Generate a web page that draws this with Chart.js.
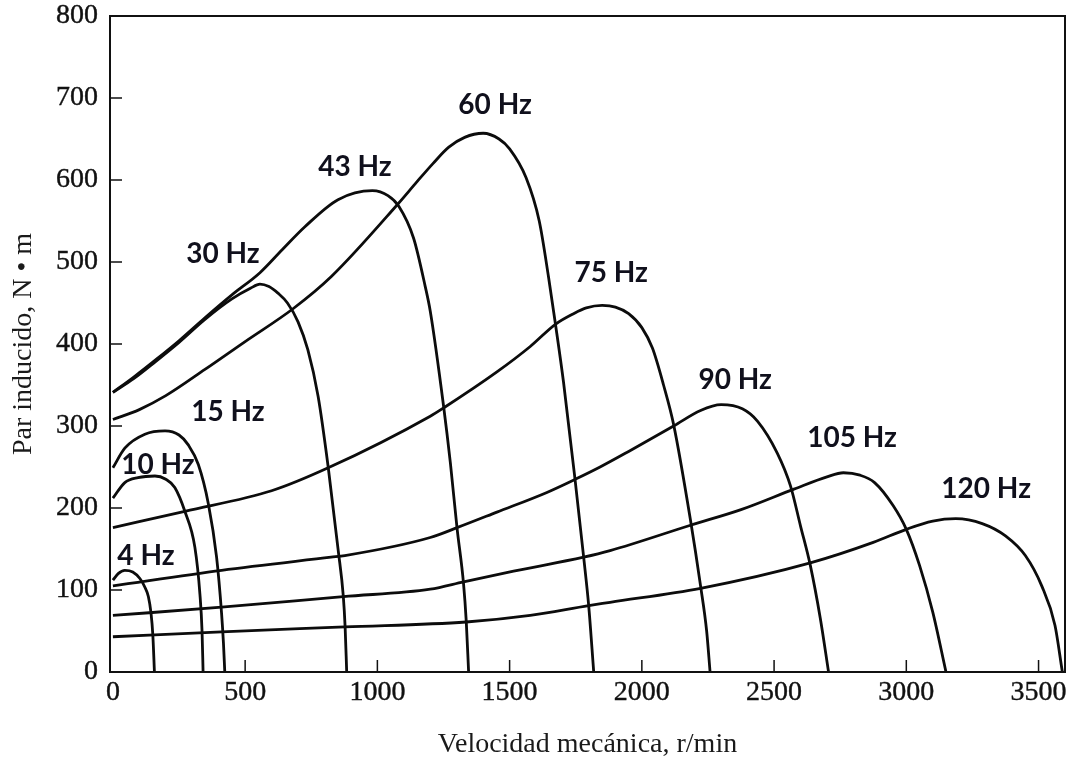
<!DOCTYPE html>
<html>
<head>
<meta charset="utf-8">
<script src="https://cdn.jsdelivr.net/npm/chart.js@4.4.1/dist/chart.umd.min.js"></script>
<style>
  html, body { margin: 0; background: #fff; }
  #wrap { width: 1074px; height: 759px; }
</style>
</head>
<body>
<div id="wrap"><canvas id="chart" width="1074" height="759"></canvas></div>
<script>
// torque-speed curves (speed r/min, torque N*m)
const rpm4 = [0, 20, 45, 75, 102, 120, 134, 144, 151, 157];
const tq4  = [112, 120, 124, 122, 114, 104, 92, 72, 45, 0];

const rpm10 = [0, 45, 95, 159, 200, 234, 272, 310, 329, 337, 341];
const tq10  = [212, 231, 237, 239, 235, 225, 196, 152, 95, 50, 0];

const rpm15 = [0, 45, 121, 197, 250, 285, 323, 361, 392, 411, 418, 423];
const tq15  = [249, 273, 290, 294, 289, 277, 253, 205, 140, 71, 35, 0];

const rpm30 = [0, 80, 159, 250, 348, 450, 520, 556, 590, 624, 660, 700, 737, 776, 814, 852, 871, 878, 884];
const tq30  = [341, 358, 378, 402, 430, 455, 468, 473, 470, 462, 450, 427, 393, 336, 250, 148, 93, 55, 0];

const rpm43 = [0, 80, 159, 250, 348, 450, 556, 640, 726, 851, 981, 1040, 1081, 1137, 1181, 1200, 1250, 1276, 1301, 1326, 1336, 1345];
const tq43  = [341, 360, 380, 404, 432, 460, 487, 515, 543, 576, 587, 581, 568, 529, 470, 440, 325, 255, 176, 107, 62, 0];

const rpm60 = [0, 100, 200, 348, 500, 681, 825, 1081, 1150, 1210, 1270, 1330, 1400, 1460, 1500, 1562, 1612, 1647, 1673, 1704, 1748, 1780, 1799, 1818];
const tq60  = [308, 320, 337, 369, 403, 443, 482, 572, 598, 620, 640, 652, 657, 650, 638, 603, 550, 482, 425, 353, 233, 140, 81, 0];

const rpm75 = [0, 272, 600, 814, 1200, 1250, 1452, 1578, 1673, 1742, 1790, 1850, 1900, 1950, 2000, 2040, 2082, 2120, 2184, 2222, 2245, 2258];
const tq75  = [176, 196, 221, 249, 312, 322, 366, 397, 424, 437, 444, 447, 445, 437, 420, 395, 350, 302, 185, 105, 50, 0];

const rpm90 = [0, 411, 825, 877, 1200, 1301, 1452, 1641, 1748, 1842, 1950, 2120, 2222, 2300, 2380, 2437, 2512, 2562, 2600, 2637, 2675, 2706];
const tq90  = [105, 124, 140, 142, 164, 176, 195, 219, 235, 250, 269, 300, 319, 326, 321, 306, 267, 227, 178, 130, 65, 0];

const rpm105 = [0, 411, 871, 1200, 1326, 1515, 1780, 1880, 2184, 2375, 2575, 2700, 2762, 2825, 2880, 2950, 3000, 3050, 3100, 3150];
const tq105  = [69, 79, 92, 101, 110, 123, 140, 148, 179, 198, 223, 238, 243, 240, 231, 203, 174, 130, 73, 0];

const rpm120 = [0, 411, 877, 1336, 1578, 1799, 1880, 2222, 2637, 2875, 3000, 3100, 3187, 3287, 3375, 3450, 3512, 3562, 3590];
const tq120  = [43, 49, 55, 61, 69, 81, 85, 102, 133, 158, 174, 184, 187, 181, 166, 142, 105, 57, 0];

// curve labels and where they sit (in data units)
const curveNames = ['4 Hz', '10 Hz', '15 Hz', '30 Hz', '43 Hz', '60 Hz', '75 Hz', '90 Hz', '105 Hz', '120 Hz'];
const labelX = [125, 170, 435, 416, 915, 1445, 1884, 2353, 2795, 3302];
const labelY = [142, 253, 317, 510, 616, 692, 487, 356, 285, 223];

const xTicks = [0, 500, 1000, 1500, 2000, 2500, 3000, 3500];
const yTicks = [0, 100, 200, 300, 400, 500, 600, 700, 800];

const rpmSets = [rpm4, rpm10, rpm15, rpm30, rpm43, rpm60, rpm75, rpm90, rpm105, rpm120];
const tqSets  = [tq4, tq10, tq15, tq30, tq43, tq60, tq75, tq90, tq105, tq120];

const datasets = rpmSets.map((xs, i) => ({
  label: curveNames[i],
  data: xs.map((x, j) => ({ x: x, y: tqSets[i][j] })),
  borderColor: '#0c0c0c',
  borderWidth: 2.8,
  pointRadius: 0,
  fill: false,
  cubicInterpolationMode: 'monotone'
}));

const serif = 'Liberation Serif, Times New Roman, serif';

// frame, inward tick marks and the Hz labels
const decorations = {
  id: 'decorations',
  afterDraw(chart){
    const ctx = chart.ctx;
    const a = chart.chartArea;
    const xs = chart.scales.x, ys = chart.scales.y;
    ctx.save();
    ctx.strokeStyle = '#111';
    ctx.lineWidth = 2;
    ctx.strokeRect(a.left, a.top, a.right - a.left, a.bottom - a.top);

    ctx.lineWidth = 1.5;
    ctx.beginPath();
    for (const v of xTicks){
      if (v === 0) continue;
      const px = xs.getPixelForValue(v);
      ctx.moveTo(px, a.bottom);
      ctx.lineTo(px, a.bottom - 12);
    }
    for (const v of yTicks){
      if (v === 0 || v === 800) continue;
      const py = ys.getPixelForValue(v);
      ctx.moveTo(a.left, py);
      ctx.lineTo(a.left + 12, py);
    }
    ctx.stroke();

    ctx.fillStyle = '#10101c';
    ctx.font = 'bold 28px Lato, "Open Sans", sans-serif';
    ctx.textAlign = 'center';
    ctx.textBaseline = 'middle';
    curveNames.forEach((t, i) => {
      ctx.fillText(t, xs.getPixelForValue(labelX[i]), ys.getPixelForValue(labelY[i]));
    });
    ctx.restore();
  }
};

new Chart(document.getElementById('chart'), {
  type: 'line',
  data: { datasets },
  options: {
    responsive: false,
    animation: false,
    layout: { padding: { top: 16, right: 9, left: 0, bottom: 0 } },
    plugins: { legend: { display: false }, tooltip: { enabled: false } },
    scales: {
      x: {
        type: 'linear',
        min: -11,
        max: 3600,
        afterBuildTicks: s => { s.ticks = xTicks.map(v => ({ value: v })); },
        afterFit: s => { s.height = 87; s.paddingLeft = 0; s.paddingRight = 0; },
        grid: { display: false, drawTicks: false },
        border: { display: false },
        ticks: {
          color: '#111',
          padding: 4,
          autoSkip: false,
          maxRotation: 0,
          textStrokeColor: '#111',
          textStrokeWidth: 0.4,
          font: { family: serif, size: 28 },
          callback: v => String(v)
        },
        title: {
          display: true,
          text: 'Velocidad mecánica, r/min',
          color: '#1a1a1a',
          font: { family: serif, size: 28, lineHeight: 1 },
          padding: { top: 0, bottom: 0 }
        }
      },
      y: {
        type: 'linear',
        min: 0,
        max: 800,
        afterBuildTicks: s => { s.ticks = yTicks.map(v => ({ value: v })); },
        afterFit: s => { s.width = 110; s.paddingTop = 0; s.paddingBottom = 0; },
        grid: { display: false, drawTicks: false },
        border: { display: false },
        ticks: {
          color: '#111',
          padding: 12,
          textStrokeColor: '#111',
          textStrokeWidth: 0.4,
          font: { family: serif, size: 28 },
          callback: v => String(v)
        },
        title: {
          display: true,
          text: 'Par inducido, N • m',
          color: '#1a1a1a',
          font: { family: serif, size: 28, lineHeight: 1 },
          padding: { top: 10, bottom: 0 }
        }
      }
    }
  },
  plugins: [decorations]
});
</script>
</body>
</html>
